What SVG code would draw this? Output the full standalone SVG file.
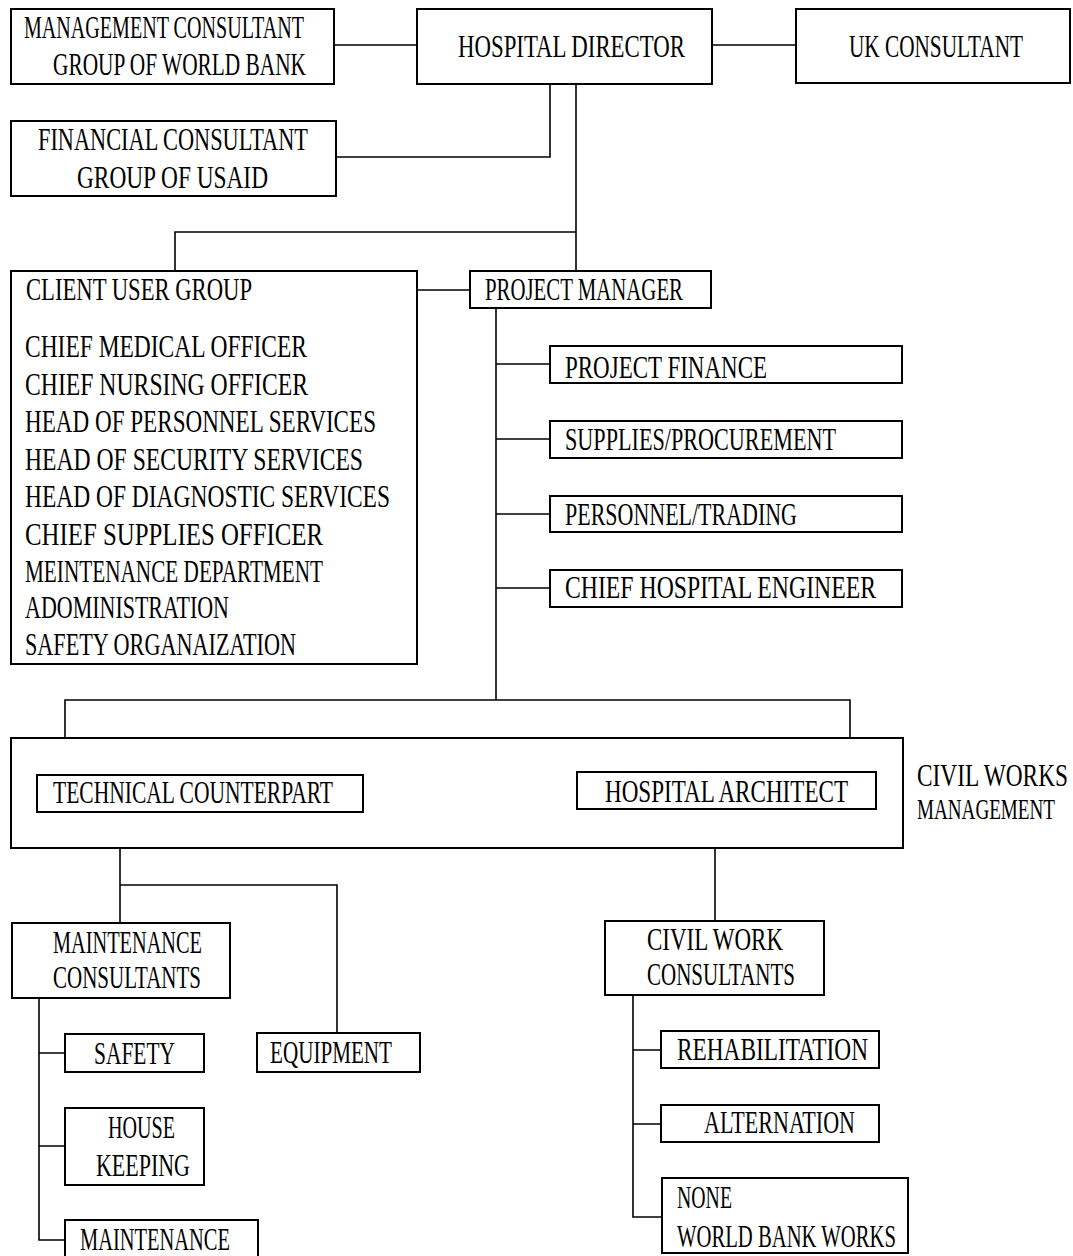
<svg xmlns="http://www.w3.org/2000/svg" width="1073" height="1256" viewBox="0 0 1073 1256">
<style>
.box{fill:#fff;stroke:#000;stroke-width:2}
.ln{fill:none;stroke:#000;stroke-width:1.6}
text{font-family:"Liberation Serif","DejaVu Serif",serif;font-size:31px;fill:#000}
</style>
<rect x="0" y="0" width="1073" height="1256" fill="#fff"/>
<g id="connectors">
<path class="ln" d="M334 45 H417 M712 45 H796"/>
<path class="ln" d="M336 157 H550 V84"/>
<path class="ln" d="M576 84 V271"/>
<path class="ln" d="M175 271 V232 H576"/>
<path class="ln" d="M417 290 H470"/>
<path class="ln" d="M496 308 V700"/>
<path class="ln" d="M496 364 H550 M496 439 H550 M496 514 H550 M496 588 H550"/>
<path class="ln" d="M65 738 V700 H850 V738"/>
<path class="ln" d="M120 848 V923"/>
<path class="ln" d="M120 885 H337 V1033"/>
<path class="ln" d="M39 998 V1240 H65 M39 1053 H65 M39 1146 H65"/>
<path class="ln" d="M715 848 V921"/>
<path class="ln" d="M633 995 V1217 H661 M633 1050 H661 M633 1124 H661"/>
</g>
<g id="mgmt-consultant"><rect class="box" x="11" y="9" width="323" height="75"/>
<text x="24" y="38" textLength="280" lengthAdjust="spacingAndGlyphs">MANAGEMENT CONSULTANT</text>
<text x="53" y="75" textLength="253" lengthAdjust="spacingAndGlyphs">GROUP OF WORLD BANK</text></g>
<g id="hospital-director"><rect class="box" x="417" y="9" width="295" height="75"/>
<text x="458" y="57" textLength="227" lengthAdjust="spacingAndGlyphs">HOSPITAL DIRECTOR</text></g>
<g id="uk-consultant"><rect class="box" x="796" y="9" width="274" height="74"/>
<text x="1023" y="57" text-anchor="end" textLength="174" lengthAdjust="spacingAndGlyphs">UK CONSULTANT</text></g>
<g id="financial-consultant"><rect class="box" x="11" y="121" width="325" height="75"/>
<text x="38" y="150" textLength="270" lengthAdjust="spacingAndGlyphs">FINANCIAL CONSULTANT</text>
<text x="77" y="188" textLength="191" lengthAdjust="spacingAndGlyphs">GROUP OF USAID</text></g>
<g id="client-user-group"><rect class="box" x="11" y="271" width="406" height="393"/>
<text x="26" y="300" textLength="226" lengthAdjust="spacingAndGlyphs">CLIENT USER GROUP</text>
<text x="25" y="357" textLength="282" lengthAdjust="spacingAndGlyphs">CHIEF MEDICAL OFFICER</text>
<text x="25" y="395" textLength="283" lengthAdjust="spacingAndGlyphs">CHIEF NURSING OFFICER</text>
<text x="25" y="432" textLength="351" lengthAdjust="spacingAndGlyphs">HEAD OF PERSONNEL SERVICES</text>
<text x="25" y="470" textLength="338" lengthAdjust="spacingAndGlyphs">HEAD OF SECURITY SERVICES</text>
<text x="25" y="507" textLength="365" lengthAdjust="spacingAndGlyphs">HEAD OF DIAGNOSTIC SERVICES</text>
<text x="25" y="545" textLength="298" lengthAdjust="spacingAndGlyphs">CHIEF SUPPLIES OFFICER</text>
<text x="25" y="582" textLength="298" lengthAdjust="spacingAndGlyphs">MEINTENANCE DEPARTMENT</text>
<text x="25" y="618" textLength="204" lengthAdjust="spacingAndGlyphs">ADOMINISTRATION</text>
<text x="25" y="655" textLength="271" lengthAdjust="spacingAndGlyphs">SAFETY ORGANAIZATION</text></g>
<g id="project-manager"><rect class="box" x="470" y="271" width="241" height="37"/>
<text x="485" y="300" textLength="198" lengthAdjust="spacingAndGlyphs">PROJECT MANAGER</text></g>
<g id="project-finance"><rect class="box" x="550" y="346" width="352" height="37"/>
<text x="565" y="378" textLength="202" lengthAdjust="spacingAndGlyphs">PROJECT FINANCE</text></g>
<g id="supplies"><rect class="box" x="550" y="421" width="352" height="37"/>
<text x="565" y="450" textLength="271" lengthAdjust="spacingAndGlyphs">SUPPLIES/PROCUREMENT</text></g>
<g id="personnel"><rect class="box" x="550" y="496" width="352" height="36"/>
<text x="565" y="525" textLength="232" lengthAdjust="spacingAndGlyphs">PERSONNEL/TRADING</text></g>
<g id="chief-engineer"><rect class="box" x="550" y="570" width="352" height="37"/>
<text x="565" y="598" textLength="311" lengthAdjust="spacingAndGlyphs">CHIEF HOSPITAL ENGINEER</text></g>
<g id="civil-works-management"><rect class="box" x="11" y="738" width="892" height="110"/>
<text x="1068" y="786" text-anchor="end" textLength="151" lengthAdjust="spacingAndGlyphs">CIVIL WORKS</text>
<text x="1055" y="819" text-anchor="end" textLength="138" lengthAdjust="spacingAndGlyphs" style="font-size:29px">MANAGEMENT</text></g>
<g id="technical-counterpart"><rect class="box" x="37" y="775" width="326" height="37"/>
<text x="53" y="803" textLength="280" lengthAdjust="spacingAndGlyphs">TECHNICAL COUNTERPART</text></g>
<g id="hospital-architect"><rect class="box" x="577" y="772" width="299" height="37"/>
<text x="605" y="802" textLength="243" lengthAdjust="spacingAndGlyphs">HOSPITAL ARCHITECT</text></g>
<g id="maintenance-consultants"><rect class="box" x="12" y="923" width="218" height="75"/>
<text x="53" y="953" textLength="149" lengthAdjust="spacingAndGlyphs">MAINTENANCE</text>
<text x="53" y="988" textLength="148" lengthAdjust="spacingAndGlyphs">CONSULTANTS</text></g>
<g id="civil-work-consultants"><rect class="box" x="605" y="921" width="219" height="74"/>
<text x="647" y="950" textLength="136" lengthAdjust="spacingAndGlyphs">CIVIL WORK</text>
<text x="647" y="985" textLength="148" lengthAdjust="spacingAndGlyphs">CONSULTANTS</text></g>
<g id="safety"><rect class="box" x="65" y="1034" width="139" height="38"/>
<text x="94" y="1064" textLength="81" lengthAdjust="spacingAndGlyphs">SAFETY</text></g>
<g id="equipment"><rect class="box" x="257" y="1033" width="163" height="39"/>
<text x="270" y="1063" textLength="122" lengthAdjust="spacingAndGlyphs">EQUIPMENT</text></g>
<g id="house-keeping"><rect class="box" x="65" y="1108" width="139" height="77"/>
<text x="108" y="1138" textLength="67" lengthAdjust="spacingAndGlyphs">HOUSE</text>
<text x="96" y="1176" textLength="94" lengthAdjust="spacingAndGlyphs">KEEPING</text></g>
<g id="maintenance"><rect class="box" x="65" y="1220" width="193" height="50"/>
<text x="80" y="1250" textLength="150" lengthAdjust="spacingAndGlyphs">MAINTENANCE</text></g>
<g id="rehabilitation"><rect class="box" x="661" y="1031" width="218" height="37"/>
<text x="677" y="1060" textLength="191" lengthAdjust="spacingAndGlyphs">REHABILITATION</text></g>
<g id="alternation"><rect class="box" x="661" y="1105" width="218" height="37"/>
<text x="704" y="1133" textLength="151" lengthAdjust="spacingAndGlyphs">ALTERNATION</text></g>
<g id="none-world-bank"><rect class="box" x="662" y="1178" width="246" height="75"/>
<text x="677" y="1208" textLength="55" lengthAdjust="spacingAndGlyphs">NONE</text>
<text x="677" y="1247" textLength="219" lengthAdjust="spacingAndGlyphs">WORLD BANK WORKS</text></g>
</svg>
